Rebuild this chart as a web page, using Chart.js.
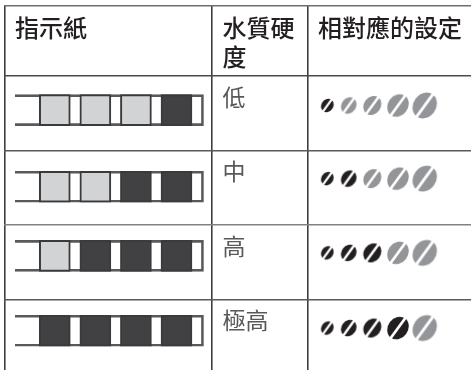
<!DOCTYPE html>
<html>
<head>
<meta charset="utf-8">
<style>
  html, body { margin: 0; padding: 0; background: #fff; }
  canvas { display: block; }
</style>
</head>
<body>
<canvas id="chart" width="471" height="370"></canvas>
<script src="https://cdn.jsdelivr.net/npm/chart.js@4"></script>
<script>
// table content
const headerFirst = ["指示紙"];
const headerHardness = ["水質硬", "度"];
const headerSetting = ["相對應的設定"];
const hardnessLabels = ["低", "中", "高", "極高"];
const darkPads = [1, 2, 3, 4];      // dark pads on each test strip, counted from the right
const beanSetting = [1, 2, 3, 4];   // dark beans in each row, counted from the left
const padCount = 4;
const beanCount = 5;

// layout (px), only used to set up the scales
const ROW_TOP = 76;
const ROW_H = 74.45;
const PAD_LEFT = 39.3;
const PAD_PITCH = 40.56;
const PAD_W = 31 / PAD_PITCH;
const STRIP_FROM = (15 - PAD_LEFT) / PAD_PITCH;
const STRIP_TO = (203.5 - PAD_LEFT) / PAD_PITCH;
const STRIP_OFFSET = [0.459, 0.488, 0.415, 0.422];
const BEAN_OFFSET = [0.396, 0.378, 0.375, 0.385];
const BEAN_X = [327.3, 348.7, 372.3, 398, 424.7];
const BEAN_SIZE = [13, 16, 18.5, 22, 25];
const COL_LINES = [4.5, 212, 307.5];

const COLOR_LIGHT = "#d1d3d4";
const COLOR_DARK = "#414042";
const COLOR_EDGE = "#3a3a3c";
const COLOR_BEAN_ON = "#231f20";
const COLOR_BEAN_OFF = "#939598";

function makeBean(size, color) {
  const c = document.createElement("canvas");
  c.width = c.height = Math.ceil(size) + 4;
  const g = c.getContext("2d");
  const a = size * 0.545;
  const b = size * 0.455;
  g.translate(c.width / 2, c.height / 2);
  g.rotate(-54 * Math.PI / 180);
  g.fillStyle = color;
  g.beginPath();
  g.ellipse(0, 0, a, b, 0, 0, Math.PI * 2);
  g.fill();
  g.strokeStyle = "#fff";
  g.lineWidth = 1.6 + size * 0.05;
  g.beginPath();
  g.moveTo(-a - 2, 0);
  g.lineTo(a + 2, 0);
  g.stroke();
  return c;
}

const rows = hardnessLabels.map((_, r) => r);

const stripDataset = {
  type: "bar",
  indexAxis: "y",
  xAxisID: "xPad",
  yAxisID: "y",
  order: 2,
  grouped: false,
  barThickness: 31,
  backgroundColor: "rgba(0,0,0,0)",
  borderColor: "#58595b",
  borderWidth: 2,
  borderSkipped: "left",
  data: rows.map((r) => ({ x: [STRIP_FROM, STRIP_TO], y: r + STRIP_OFFSET[r] })),
};

const padDatasets = [];
for (let p = 0; p < padCount; p++) {
  padDatasets.push({
    type: "bar",
    indexAxis: "y",
    xAxisID: "xPad",
    yAxisID: "y",
    order: 1,
    grouped: false,
    barThickness: 31,
    borderColor: COLOR_EDGE,
    borderWidth: 2,
    borderSkipped: false,
    backgroundColor: rows.map((r) => (p >= padCount - darkPads[r] ? COLOR_DARK : COLOR_LIGHT)),
    data: rows.map((r) => ({ x: [p, p + PAD_W], y: r + STRIP_OFFSET[r] })),
  });
}

const beanDatasets = [];
for (let b = 0; b < beanCount; b++) {
  const on = makeBean(BEAN_SIZE[b], COLOR_BEAN_ON);
  const off = makeBean(BEAN_SIZE[b], COLOR_BEAN_OFF);
  beanDatasets.push({
    type: "scatter",
    xAxisID: "x",
    yAxisID: "y",
    order: 0,
    showLine: false,
    pointRadius: 5,
    pointStyle: rows.map((r) => (b < beanSetting[r] ? on : off)),
    data: rows.map((r) => ({ x: BEAN_X[b], y: r + BEAN_OFFSET[r] })),
  });
}

// cell text goes through the same scales as the marks
const cellText = {
  id: "cellText",
  afterDraw(chart) {
    const { ctx, scales } = chart;
    const put = (lines, px, top, font, color) => {
      ctx.font = font;
      ctx.fillStyle = color;
      lines.forEach((t, i) => ctx.fillText(t, scales.x.getPixelForValue(px), top + i * 29));
    };
    ctx.save();
    ctx.textBaseline = "alphabetic";
    ctx.textAlign = "left";
    const headFont = '500 24px "Noto Sans CJK TC"';
    put(headerFirst, 15, 37, headFont, "#231f20");
    put(headerHardness, 222.5, 37, headFont, "#231f20");
    put(headerSetting, 318, 37, headFont, "#231f20");
    hardnessLabels.forEach((t, r) => {
      const y = scales.y.getPixelForValue(r) + 30;
      put([t], 222.5, y, '400 23px "Noto Sans CJK TC"', "#58595b");
    });
    ctx.restore();
  },
};

const Y_MIN = (6 - ROW_TOP) / ROW_H;
const Y_MAX = (370 - ROW_TOP) / ROW_H;

new Chart(document.getElementById("chart"), {
  type: "bar",
  data: { datasets: [stripDataset, ...padDatasets, ...beanDatasets] },
  plugins: [cellText],
  options: {
    responsive: false,
    animation: false,
    layout: { autoPadding: false, padding: { left: 4, top: 6, right: 0, bottom: 0 } },
    plugins: { legend: { display: false }, tooltip: { enabled: false } },
    scales: {
      x: {
        type: "linear",
        offset: false,
        min: 4,
        max: 471,
        afterBuildTicks: (axis) => { axis.ticks = COL_LINES.map((value) => ({ value })); },
        ticks: { display: false },
        border: { display: false },
        grid: { offset: false, drawTicks: false, color: "#3f3f41", lineWidth: 1.6 },
      },
      xPad: {
        type: "linear",
        axis: "x",
        offset: false,
        display: false,
        min: (4 - PAD_LEFT) / PAD_PITCH,
        max: (471 - PAD_LEFT) / PAD_PITCH,
      },
      y: {
        type: "linear",
        offset: false,
        reverse: true,
        min: Y_MIN,
        max: Y_MAX,
        afterBuildTicks: (axis) => {
          axis.ticks = [Y_MIN, 0, 1, 2, 3].map((value) => ({ value }));
        },
        ticks: { display: false },
        border: { display: false },
        grid: {
          offset: false,
          drawTicks: false,
          lineWidth: 1.6,
          color: (ctx) => ["#6d6e71", "#4a4a4c", "#58595b", "#808285", "#58595b"][ctx.index],
        },
      },
    },
  },
});
</script>
</body>
</html>
